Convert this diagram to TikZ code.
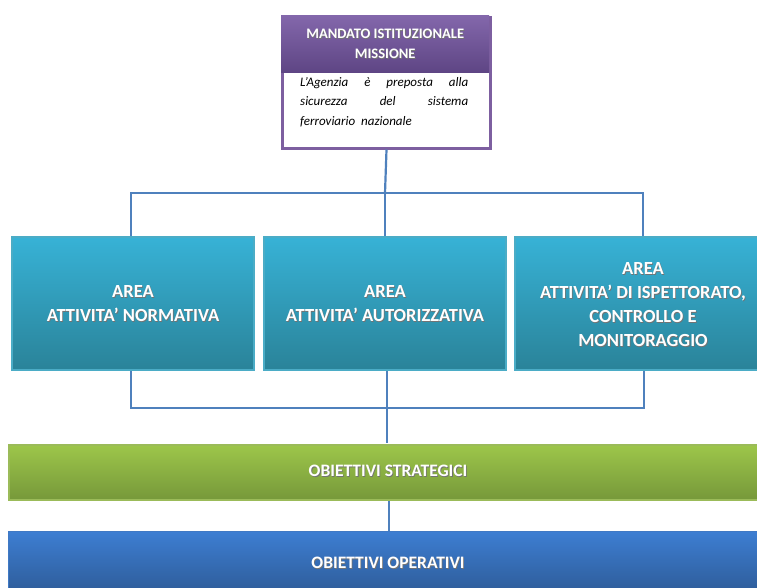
\documentclass[tikz,border=0pt]{standalone}
\usepackage{fontspec}
\setmainfont{Carlito}
\newcommand{\shd}[1]{\leavevmode\rlap{\hspace{0.8pt}\raisebox{-0.8pt}{\textcolor{black!55}{#1}}}#1}
\definecolor{purpTop}{HTML}{8367AB}
\definecolor{purpBot}{HTML}{5E4584}
\definecolor{purpBorder}{HTML}{7D5FA0}
\definecolor{cyanTop}{HTML}{37B2D6}
\definecolor{cyanBot}{HTML}{2A8399}
\definecolor{cyanBorder}{HTML}{4BACC6}
\definecolor{greenTop}{HTML}{9DC64A}
\definecolor{greenBot}{HTML}{76983A}
\definecolor{greenBorder}{HTML}{9BBB59}
\definecolor{blueTop}{HTML}{3D7ED2}
\definecolor{blueBot}{HTML}{2F5E9C}
\definecolor{blueBorder}{HTML}{4079C4}
\definecolor{lineBlue}{HTML}{4F81BD}
\begin{document}
\begin{tikzpicture}[x=1pt,y=-1pt,
  boxtxt/.style={text=white,font=\bfseries\fontsize{18.5}{24}\selectfont,align=center},
  bartxt/.style={text=white,font=\bfseries\fontsize{17.5}{22}\selectfont,align=center},
  conn/.style={draw=lineBlue,line width=2.2pt},
  areabox/.style={draw=cyanBorder,line width=2pt,top color=cyanTop,bottom color=cyanBot,minimum width=242pt,minimum height=133pt,inner sep=0pt},
]
\useasboundingbox (0,0) rectangle (757,587);
\fill[white] (0,0) rectangle (757,587);

% top box
\node[draw=purpBorder,line width=3pt,fill=white,minimum width=208pt,minimum height=131pt,inner sep=0pt,anchor=north west] (mand) at (281,15.5) {};
\node[top color=purpTop,bottom color=purpBot,minimum width=208pt,minimum height=57pt,inner sep=0pt,anchor=north west,
  text=white,font=\bfseries\fontsize{14.5}{20}\selectfont,align=center] (head) at (281,15.5) {\shd{MANDATO ISTITUZIONALE}\\\shd{MISSIONE}};
\node[anchor=north west,align=left,font=\itshape\fontsize{13}{19.5}\selectfont,inner sep=0pt] (body) at (300,77)
  {\makebox[168pt][s]{L'Agenzia è preposta alla}\\\makebox[168pt][s]{sicurezza del sistema}\\ferroviario\ \ nazionale};

% area boxes
\node[areabox,anchor=north west] (a1) at (11,236) {};
\node[areabox,anchor=north west] (a2) at (263,236) {};
\node[areabox,anchor=north west,minimum width=244pt] (a3) at (514,236) {};
\node[boxtxt] at (133,304) {\shd{AREA}\\\shd{ATTIVITA’ NORMATIVA}};
\node[boxtxt] at (385,304) {\shd{AREA}\\\shd{ATTIVITA’ AUTORIZZATIVA}};
\node[boxtxt] at (643,305) {\shd{AREA}\\\shd{ATTIVITA’ DI ISPETTORATO,}\\\shd{CONTROLLO E}\\\shd{MONITORAGGIO}};

% strategic / operative
\node[draw=greenBorder,line width=2pt,top color=greenTop,bottom color=greenBot,minimum width=752pt,minimum height=55pt,inner sep=0pt,anchor=north west] (strat) at (8,444) {};
\node[bartxt] at (388,471) {\shd{OBIETTIVI STRATEGICI}};
\node[draw=blueBorder,line width=1pt,top color=blueTop,bottom color=blueBot,minimum width=752pt,minimum height=58pt,inner sep=0pt,anchor=north west] (oper) at (8,531) {};
\node[bartxt] at (388,563) {\shd{OBIETTIVI OPERATIVI}};

% connectors
\coordinate (tl) at (131,193);
\coordinate (tr) at (643,193);
\coordinate (tm) at (385,193);
\coordinate (bl) at (131,408);
\coordinate (br) at (644,408);
\draw[conn] (mand.south) -- (tm);
\draw[conn] (a1.north -| tl) -- (tl) -- (tr) -- (a3.north -| tr);
\draw[conn] (tm) -- (tm |- a2.north);
\draw[conn] (a1.south -| bl) -- (bl) -- (br) -- (a3.south -| br);
\draw[conn] (387,371) -- (387,443);
\draw[conn] (strat.south -| 389,0) -- (oper.north -| 389,0);
\end{tikzpicture}
\end{document}
